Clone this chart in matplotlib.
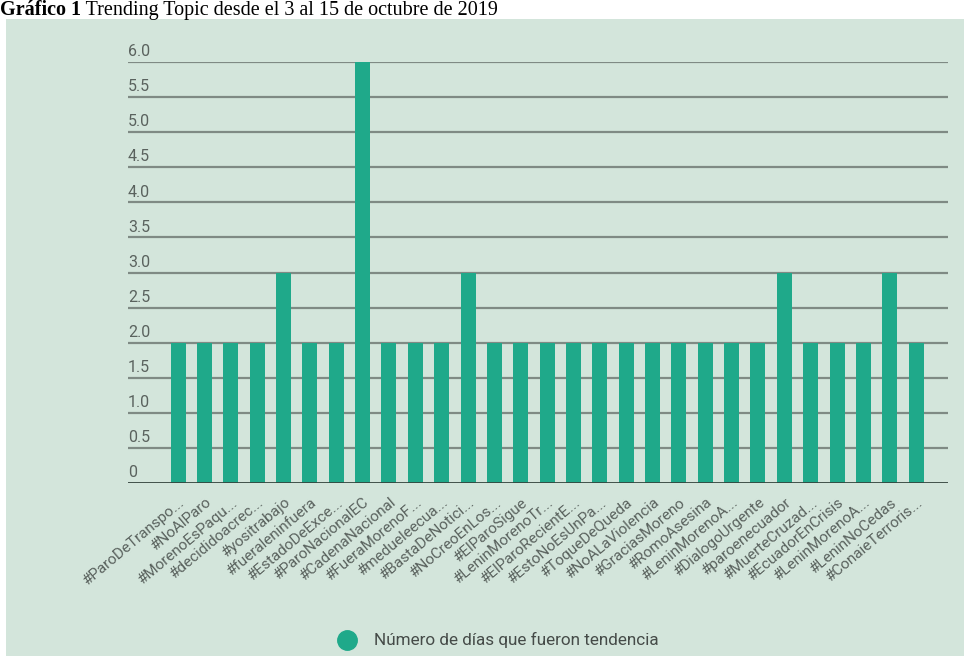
import matplotlib
matplotlib.use("Agg")
import matplotlib.pyplot as plt
from matplotlib.patches import Rectangle
from matplotlib.lines import Line2D

hashtags = [
    "#ParoDeTranspo...", "#NoAlParo", "#MorenoEsPaqu...", "#decididoacrec...",
    "#yositrabajo", "#fueraleninfuera", "#EstadoDeExce...", "#ParoNacionalEC",
    "#CadenaNacional", "#FueraMorenoF...", "#medueleecua...", "#BastaDeNotici...",
    "#NoCreoEnLos...", "#ElParoSigue", "#LeninMorenoTr...", "#ElParoRecientE...",
    "#EstoNoEsUnPa...", "#ToqueDeQueda", "#NoALaViolencia", "#GraciasMoreno",
    "#RomoAsesina", "#LeninMorenoA...", "#DialogoUrgente", "#paroenecuador",
    "#MuerteCruzad...", "#EcuadorEnCrisis", "#LeninMorenoA...", "#LeninNoCedas",
    "#ConaieTerroris...",
]
dias = [2, 2, 2, 2, 3, 2, 2, 6, 2, 2, 2, 3, 2, 2, 2, 2, 2, 2, 2, 2, 2, 2, 2, 3, 2, 2, 2, 3, 2]
yticks = [0, 0.5, 1.0, 1.5, 2.0, 2.5, 3.0, 3.5, 4.0, 4.5, 5.0, 5.5, 6.0]
ytick_labels = ["0", "0.5", "1.0", "1.5", "2.0", "2.5", "3.0", "3.5", "4.0", "4.5", "5.0", "5.5", "6.0"]
title_bold = "Gráfico 1"
title_rest = " Trending Topic desde el 3 al 15 de octubre de 2019"
legend_label = "Número de días que fueron tendencia"

W, H = 964, 656
BG = "#d3e5db"
BAR = "#1fa98a"

fig = plt.figure(figsize=(W / 100, H / 100), dpi=100)
fig.patch.set_facecolor("white")
fig.patches.append(Rectangle((6 / W, 0), 1 - 6 / W, (H - 19) / H,
                             transform=fig.transFigure, facecolor=BG,
                             edgecolor="none", zorder=-10))

# title
ty = 1 - 15 / H
t1 = fig.text(0.0, ty, title_bold, fontsize=14.5, fontweight="bold",
              family="Liberation Serif", va="baseline", ha="left")
fig.canvas.draw()
bb = t1.get_window_extent()
fig.text(bb.x1 / W, ty, title_rest, fontsize=14.5,
         family="Liberation Serif", va="baseline", ha="left")

left, right = 128 / W, 948 / W
bottom, top = 1 - 483 / H, 1 - 62 / H
ax = fig.add_axes([left, bottom, right - left, top - bottom])
ax.set_facecolor("none")

x = list(range(len(dias)))
ax.bar(x, dias, width=0.57, color=BAR, zorder=3)
ax.set_xlim(-1.9, 29.21)
ax.set_ylim(0, 6)

for v in yticks[1:]:
    ax.axhline(v, color="#7f8a84", lw=1.6, zorder=1)
ax.axhline(0, color="#34443d", lw=2.0, zorder=4)

for s in ax.spines.values():
    s.set_visible(False)
ax.set_yticks([])
for v, lab in zip(yticks, ytick_labels):
    ax.annotate(lab, xy=(0, v), xycoords=ax.get_yaxis_transform(),
                xytext=(0, 2), textcoords="offset points",
                ha="left", va="bottom", fontsize=11.5, color="#5a625e",
                family="Roboto")

ax.set_xticks(x)
ax.set_xticklabels(hashtags, rotation=40, ha="right", rotation_mode="anchor",
                   fontsize=11, color="#5a625e", family="Roboto")
ax.tick_params(axis="x", length=0, pad=9)

# legend
fig.add_artist(Line2D([347 / W], [1 - 640 / H], marker="o", markersize=14,
                      color=BAR, transform=fig.transFigure, linestyle="none"))
fig.text(374 / W, 1 - 640 / H, legend_label, fontsize=12.3, color="#454b48",
         family="Roboto", va="center", ha="left")

fig.savefig("out.png", dpi=100, facecolor=fig.get_facecolor())
